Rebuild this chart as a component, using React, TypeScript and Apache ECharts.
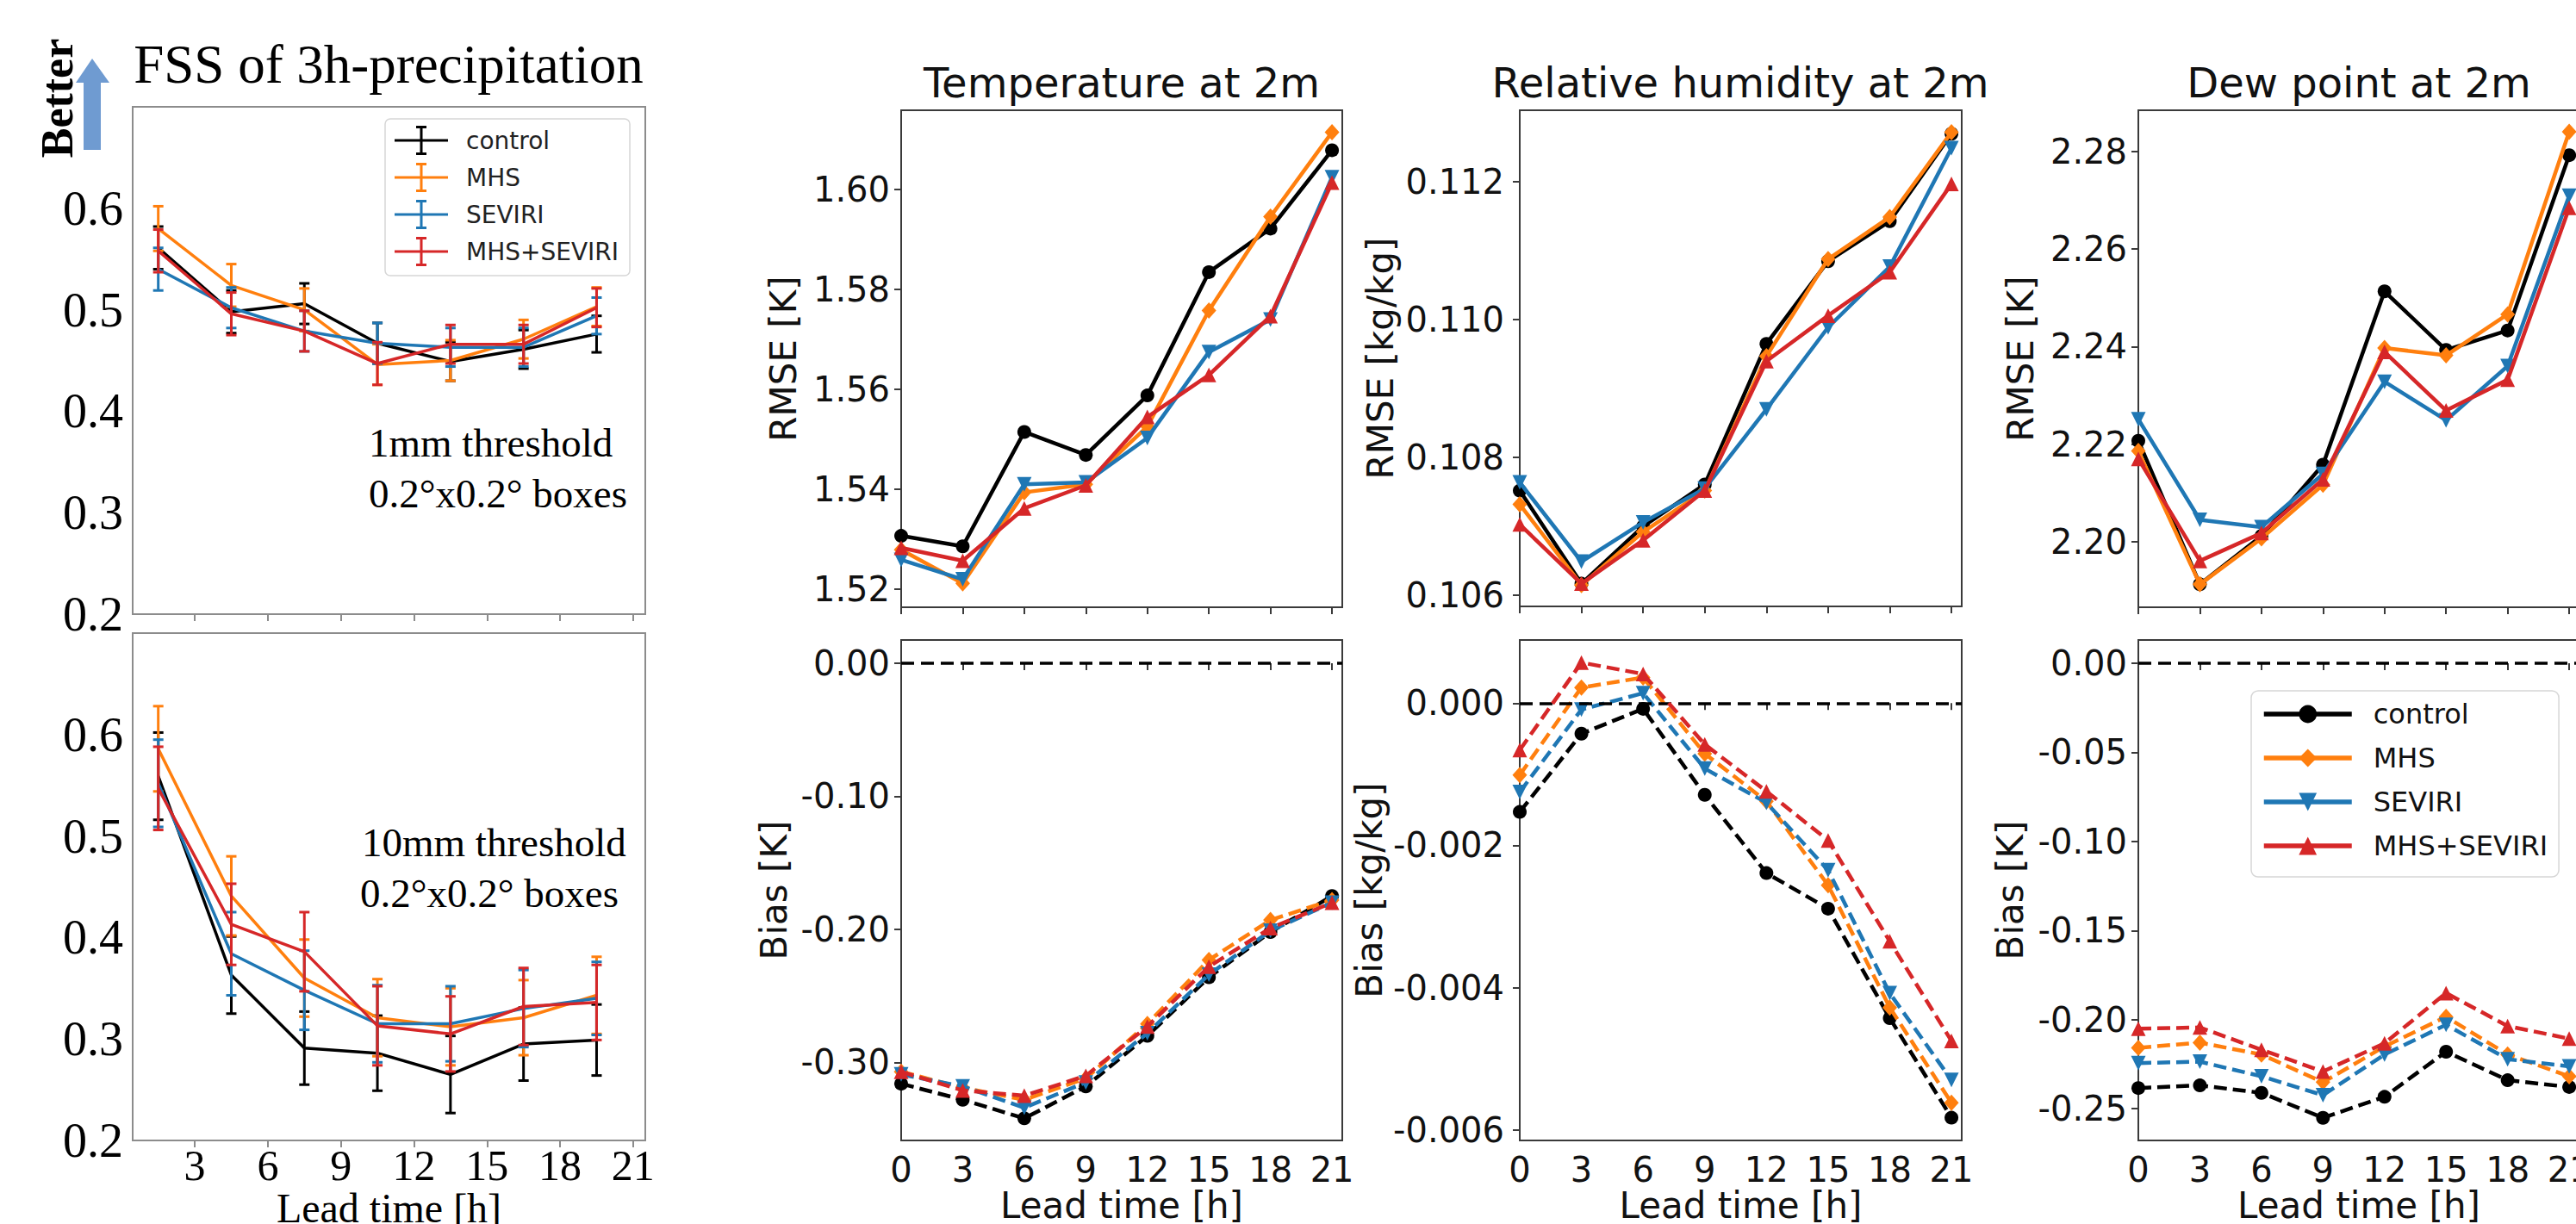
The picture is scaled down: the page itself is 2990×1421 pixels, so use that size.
import React, { useEffect, useRef } from 'react';
import * as echarts from 'echarts';

// ---------------- data ----------------
const experiments = ['control', 'MHS', 'SEVIRI', 'MHS+SEVIRI'];
const fssLeadTimes = [1.5, 4.5, 7.5, 10.5, 13.5, 16.5, 19.5];
const leadTimes = [0, 3, 6, 9, 12, 15, 18, 21];

// FSS, 1mm threshold
const fss1mmControl = [0.561, 0.498, 0.506, 0.467, 0.449, 0.461, 0.476];
const fss1mmMHS = [0.58, 0.524, 0.5, 0.446, 0.45, 0.471, 0.503];
const fss1mmSEVIRI = [0.54, 0.502, 0.479, 0.467, 0.463, 0.463, 0.494];
const fss1mmBoth = [0.558, 0.496, 0.479, 0.447, 0.466, 0.466, 0.502];
const fss1mmErrControl = [0.021, 0.021, 0.02, 0.02, 0.019, 0.019, 0.018];
const fss1mmErrMHS = [0.022, 0.021, 0.021, 0.02, 0.02, 0.019, 0.019];
const fss1mmErrSEVIRI = [0.021, 0.02, 0.02, 0.02, 0.019, 0.019, 0.018];
const fss1mmErrBoth = [0.021, 0.021, 0.02, 0.021, 0.019, 0.019, 0.019];

// FSS, 10mm threshold
const fss10mmControl = [0.559, 0.363, 0.291, 0.286, 0.265, 0.295, 0.299];
const fss10mmMHS = [0.586, 0.441, 0.36, 0.321, 0.312, 0.321, 0.343];
const fss10mmSEVIRI = [0.552, 0.384, 0.348, 0.315, 0.315, 0.33, 0.34];
const fss10mmBoth = [0.547, 0.413, 0.386, 0.313, 0.305, 0.332, 0.336];
const fss10mmErrControl = [0.043, 0.038, 0.036, 0.037, 0.038, 0.036, 0.035];
const fss10mmErrMHS = [0.042, 0.039, 0.038, 0.038, 0.038, 0.037, 0.038];
const fss10mmErrSEVIRI = [0.043, 0.041, 0.039, 0.038, 0.037, 0.038, 0.036];
const fss10mmErrBoth = [0.041, 0.04, 0.039, 0.039, 0.037, 0.038, 0.037];

// Temperature at 2m
const t2mRmseControl = [1.5307, 1.5286, 1.5515, 1.5469, 1.5588, 1.5835, 1.5922, 1.6079];
const t2mRmseMHS = [1.5279, 1.5212, 1.5394, 1.541, 1.5526, 1.5758, 1.5946, 1.6115];
const t2mRmseSEVIRI = [1.5259, 1.522, 1.541, 1.5414, 1.5503, 1.5675, 1.574, 1.6025];
const t2mRmseBoth = [1.5283, 1.5257, 1.5362, 1.5408, 1.5545, 1.5629, 1.5747, 1.6014];
const t2mBiasControl = [-0.316, -0.328, -0.342, -0.318, -0.28, -0.236, -0.202, -0.175];
const t2mBiasMHS = [-0.307, -0.319, -0.328, -0.312, -0.271, -0.223, -0.193, -0.178];
const t2mBiasSEVIRI = [-0.309, -0.318, -0.334, -0.315, -0.278, -0.234, -0.201, -0.18];
const t2mBiasBoth = [-0.307, -0.321, -0.325, -0.31, -0.273, -0.228, -0.199, -0.18];

// Relative humidity at 2m
const rh2mRmseControl = [0.10752, 0.10617, 0.107, 0.10761, 0.10965, 0.11085, 0.11143, 0.1127];
const rh2mRmseMHS = [0.10732, 0.10615, 0.10692, 0.10752, 0.10947, 0.11088, 0.11149, 0.11272];
const rh2mRmseSEVIRI = [0.10764, 0.10649, 0.10706, 0.10755, 0.1087, 0.10989, 0.11077, 0.11249];
const rh2mRmseBoth = [0.10703, 0.10617, 0.1068, 0.10752, 0.1094, 0.11006, 0.11069, 0.11197];
const rh2mBiasControl = [-0.00153, -0.00043, -0.00008, -0.00129, -0.00239, -0.00289, -0.00443, -0.00583];
const rh2mBiasMHS = [-0.00101, 0.00022, 0.00036, -0.00071, -0.00138, -0.00256, -0.00428, -0.00562];
const rh2mBiasSEVIRI = [-0.00125, -0.00009, 0.00014, -0.00092, -0.0014, -0.00235, -0.00408, -0.0053];
const rh2mBiasBoth = [-0.00066, 0.00057, 0.00041, -0.00058, -0.00124, -0.00193, -0.00335, -0.00475];

// Dew point at 2m
const td2mRmseControl = [2.2207, 2.1913, 2.2012, 2.2158, 2.2513, 2.2393, 2.2433, 2.2792];
const td2mRmseMHS = [2.2186, 2.1913, 2.2007, 2.2117, 2.2397, 2.2382, 2.2466, 2.284];
const td2mRmseSEVIRI = [2.2251, 2.2045, 2.203, 2.2139, 2.2328, 2.2249, 2.236, 2.2709];
const td2mRmseBoth = [2.217, 2.1961, 2.2018, 2.2128, 2.2389, 2.2269, 2.2332, 2.2684];
const td2mBiasControl = [-0.2384, -0.2369, -0.2411, -0.2551, -0.2433, -0.218, -0.234, -0.2378];
const td2mBiasMHS = [-0.2158, -0.2129, -0.2196, -0.2351, -0.2151, -0.1984, -0.2196, -0.2318];
const td2mBiasSEVIRI = [-0.2244, -0.2236, -0.2318, -0.2424, -0.2196, -0.2029, -0.2222, -0.2262];
const td2mBiasBoth = [-0.2051, -0.2044, -0.2169, -0.2291, -0.2133, -0.1851, -0.2036, -0.2107];

// tick labels
const fssXTicks = [3, 6, 9, 12, 15, 18, 21];
const fssYTicks = [0.2, 0.3, 0.4, 0.5, 0.6];
const leadTicks = [0, 3, 6, 9, 12, 15, 18, 21];
const t2mRmseTicks = [1.52, 1.54, 1.56, 1.58, 1.6];
const t2mBiasTicks = [-0.3, -0.2, -0.1, 0];
const rh2mRmseTicks = [0.106, 0.108, 0.11, 0.112];
const rh2mBiasTicks = [-0.006, -0.004, -0.002, 0];
const td2mRmseTicks = [2.2, 2.22, 2.24, 2.26, 2.28];
const td2mBiasTicks = [-0.25, -0.2, -0.15, -0.1, -0.05, 0];

// ---------------- styles ----------------
const SERIF = '"Liberation Serif", "Times New Roman", serif';
const SANS = '"DejaVu Sans", Verdana, sans-serif';
const COLORS = ['#000000', '#ff7f0e', '#1f77b4', '#d62728'];
const SYMBOLS = ['circle', 'diamond', 'triangle', 'triangle'];
const SYMBOL_SIZES: any[] = [16, [17, 19], 17, 17];
const SYMBOL_ROT = [0, 0, 180, 0];
const DASH = [15, 7];

const grids = [
  { left: 154, top: 124, width: 595, height: 589 },
  { left: 154, top: 735, width: 595, height: 589 },
  { left: 1046, top: 128, width: 512, height: 577 },
  { left: 1046, top: 743, width: 512, height: 581 },
  { left: 1764, top: 128, width: 513, height: 576 },
  { left: 1764, top: 743, width: 513, height: 581 },
  { left: 2482, top: 128, width: 512, height: 577 },
  { left: 2482, top: 743, width: 512, height: 581 },
];

function buildOption() {
  const grid = grids.map((g, i) => ({
    ...g,
    show: true,
    borderColor: i < 2 ? '#8c8c8c' : '#3a3a3a',
    borderWidth: 2,
    backgroundColor: 'rgba(0,0,0,0)',
    containLabel: false,
    outerBoundsMode: 'none',
  }));

  const xAxis: any[] = [];
  const yAxis: any[] = [];

  // FSS axes
  [0, 1].forEach((gi) => {
    xAxis.push({
      type: 'value', gridIndex: gi, min: 0.45, max: 21.5,
      axisLine: { show: false },
      splitLine: { show: false },
      axisTick: { show: true, inside: false, length: 8, customValues: fssXTicks, lineStyle: { color: '#8c8c8c', width: 2 } },
      axisLabel: {
        show: gi === 1, customValues: fssXTicks, margin: 4,
        fontFamily: SERIF, fontSize: 50, color: '#000',
      },
      name: gi === 1 ? 'Lead time [h]' : '',
      nameLocation: 'middle', nameGap: 42,
      nameTextStyle: { fontFamily: SERIF, fontSize: 48, color: '#000' },
    });
    yAxis.push({
      type: 'value', gridIndex: gi, min: 0.2, max: 0.7,
      axisLine: { show: false }, splitLine: { show: false },
      axisTick: { show: false },
      axisLabel: {
        customValues: fssYTicks, margin: 11, fontFamily: SERIF, fontSize: 56, color: '#000',
        formatter: (v: number) => v.toFixed(1),
      },
    });
  });

  const panels = [
    { gi: 2, min: 1.5164, max: 1.6159, ticks: t2mRmseTicks, dec: 2, name: 'RMSE [K]', gap: 116, margin: 13, bias: false },
    { gi: 3, min: -0.3586, max: 0.0174, ticks: t2mBiasTicks, dec: 2, name: 'Bias [K]', gap: 127, margin: 13, bias: true },
    { gi: 4, min: 0.10584, max: 0.11304, ticks: rh2mRmseTicks, dec: 3, name: 'RMSE [kg/kg]', gap: 141, margin: 18, bias: false },
    { gi: 5, min: -0.00615, max: 0.000888, ticks: rh2mBiasTicks, dec: 3, name: 'Bias [kg/kg]', gap: 154, margin: 18, bias: true },
    { gi: 6, min: 2.1866, max: 2.2884, ticks: td2mRmseTicks, dec: 2, name: 'RMSE [K]', gap: 116, margin: 13, bias: false },
    { gi: 7, min: -0.2678, max: 0.013, ticks: td2mBiasTicks, dec: 2, name: 'Bias [K]', gap: 128, margin: 13, bias: true },
  ];

  panels.forEach((p) => {
    xAxis.push({
      type: 'value', gridIndex: p.gi, min: 0, max: 21.5,
      axisLine: { show: false }, splitLine: { show: false },
      axisTick: { show: true, inside: false, length: 8, customValues: leadTicks, lineStyle: { color: '#3a3a3a', width: 2 } },
      axisLabel: {
        show: p.bias, customValues: leadTicks, margin: 14,
        fontFamily: SANS, fontSize: 40, color: '#111',
      },
      name: p.bias ? 'Lead time [h]' : '',
      nameLocation: 'middle', nameGap: 49,
      nameTextStyle: { fontFamily: SANS, fontSize: 42, color: '#111' },
    });
    yAxis.push({
      type: 'value', gridIndex: p.gi, min: p.min, max: p.max,
      axisLine: { show: false }, splitLine: { show: false },
      axisTick: { show: true, inside: false, length: 8, customValues: p.ticks, lineStyle: { color: '#3a3a3a', width: 2 } },
      axisLabel: {
        customValues: p.ticks, margin: p.margin, fontFamily: SANS, fontSize: 40, color: '#111',
        formatter: (v: number) => v.toFixed(p.dec),
      },
      name: p.name, nameLocation: 'middle', nameGap: p.gap,
      nameTextStyle: { fontFamily: SANS, fontSize: 42, color: '#111' },
    });
  });

  const series: any[] = [];
  const rightData = [
    { axis: 2, dashed: false, sets: [t2mRmseControl, t2mRmseMHS, t2mRmseSEVIRI, t2mRmseBoth] },
    { axis: 3, dashed: true, sets: [t2mBiasControl, t2mBiasMHS, t2mBiasSEVIRI, t2mBiasBoth] },
    { axis: 4, dashed: false, sets: [rh2mRmseControl, rh2mRmseMHS, rh2mRmseSEVIRI, rh2mRmseBoth] },
    { axis: 5, dashed: true, sets: [rh2mBiasControl, rh2mBiasMHS, rh2mBiasSEVIRI, rh2mBiasBoth] },
    { axis: 6, dashed: false, sets: [td2mRmseControl, td2mRmseMHS, td2mRmseSEVIRI, td2mRmseBoth] },
    { axis: 7, dashed: true, sets: [td2mBiasControl, td2mBiasMHS, td2mBiasSEVIRI, td2mBiasBoth] },
  ];
  rightData.forEach((panel) => {
    panel.sets.forEach((vals, k) => {
      const s: any = {
        name: experiments[k], type: 'line', xAxisIndex: panel.axis, yAxisIndex: panel.axis,
        data: leadTimes.map((x, i) => [x, vals[i]]),
        symbol: SYMBOLS[k], symbolSize: SYMBOL_SIZES[k], symbolRotate: SYMBOL_ROT[k],
        showSymbol: true,
        lineStyle: { color: COLORS[k], width: 4.5, type: panel.dashed ? DASH : 'solid' },
        itemStyle: { color: COLORS[k], borderWidth: 0 },
        z: 2 + k, silent: true,
      };
      if (panel.dashed && k === 0) {
        s.markLine = {
          silent: true, symbol: 'none', label: { show: false },
          lineStyle: { color: '#000', type: [15, 8], width: 3.5 },
          data: [{ yAxis: 0 }],
        };
      }
      series.push(s);
    });
  });

  const fssPanels = [
    { axis: 0, sets: [fss1mmControl, fss1mmMHS, fss1mmSEVIRI, fss1mmBoth], errs: [fss1mmErrControl, fss1mmErrMHS, fss1mmErrSEVIRI, fss1mmErrBoth] },
    { axis: 1, sets: [fss10mmControl, fss10mmMHS, fss10mmSEVIRI, fss10mmBoth], errs: [fss10mmErrControl, fss10mmErrMHS, fss10mmErrSEVIRI, fss10mmErrBoth] },
  ];
  fssPanels.forEach((panel) => {
    panel.sets.forEach((vals, k) => {
      const color = COLORS[k];
      series.push({
        name: experiments[k], type: 'line', xAxisIndex: panel.axis, yAxisIndex: panel.axis,
        data: fssLeadTimes.map((x, i) => [x, vals[i]]),
        symbol: 'none', showSymbol: false,
        lineStyle: { color, width: 3.5 }, itemStyle: { color },
        z: 2 + k, silent: true,
      });
      series.push({
        name: experiments[k] + ' error', type: 'custom', xAxisIndex: panel.axis, yAxisIndex: panel.axis,
        data: fssLeadTimes.map((x, i) => [x, vals[i], panel.errs[k][i]]),
        encode: { x: 0, y: 1 },
        z: 2 + k, silent: true,
        renderItem: (params: any, api: any) => {
          const x = api.value(0);
          const y = api.value(1);
          const e = api.value(2);
          const top = api.coord([x, y + e]);
          const bot = api.coord([x, y - e]);
          const hw = 6;
          const style = { stroke: color, lineWidth: 3 };
          return {
            type: 'group',
            children: [
              { type: 'line', shape: { x1: top[0], y1: top[1], x2: bot[0], y2: bot[1] }, style },
              { type: 'line', shape: { x1: top[0] - hw, y1: top[1], x2: top[0] + hw, y2: top[1] }, style },
              { type: 'line', shape: { x1: bot[0] - hw, y1: bot[1], x2: bot[0] + hw, y2: bot[1] }, style },
            ],
          };
        },
      });
    });
  });

  const errIcon = 'path://M0,15.5H62V18.5H0Z M29.5,0H32.5V34H29.5Z M25,0H37V3H25Z M25,31H37V34H25Z';

  const legend = [
    {
      left: 447, top: 138, orient: 'vertical', selectedMode: false,
      data: experiments, icon: errIcon, itemWidth: 62, itemHeight: 34, itemGap: 9,
      backgroundColor: '#fff', borderColor: '#d6d6d6', borderWidth: 1.5, borderRadius: 6,
      padding: [8, 13, 11, 11],
      textStyle: { fontFamily: SANS, fontSize: 28, color: '#222', padding: [0, 0, 0, 16], lineHeight: 30 },
    },
    {
      left: 2613, top: 802, orient: 'vertical', selectedMode: false,
      data: experiments, itemWidth: 102, itemHeight: 26, itemGap: 17,
      lineStyle: { width: 5.5 },
      backgroundColor: '#fff', borderColor: '#d6d6d6', borderWidth: 1.5, borderRadius: 8,
      padding: [10, 13, 19, 12],
      textStyle: { fontFamily: SANS, fontSize: 32, color: '#111', padding: [0, 0, 0, 20], lineHeight: 34 },
    },
  ];

  const title = [
    { text: 'FSS of 3h-precipitation', left: 451, top: 43, textAlign: 'center', padding: 0,
      textStyle: { fontFamily: SERIF, fontSize: 63, fontWeight: 'normal', color: '#000' } },
    { text: 'Temperature at 2m', left: 1302, top: 72, textAlign: 'center', padding: 0,
      textStyle: { fontFamily: SANS, fontSize: 48, fontWeight: 'normal', color: '#111' } },
    { text: 'Relative humidity at 2m', left: 2020, top: 72, textAlign: 'center', padding: 0,
      textStyle: { fontFamily: SANS, fontSize: 48, fontWeight: 'normal', color: '#111' } },
    { text: 'Dew point at 2m', left: 2738, top: 72, textAlign: 'center', padding: 0,
      textStyle: { fontFamily: SANS, fontSize: 48, fontWeight: 'normal', color: '#111' } },
  ];

  const annoFont = `47px ${SERIF}`;
  const graphic = [
    { type: 'text', x: 428, y: 514, style: { text: '1mm threshold', font: annoFont, fill: '#000', align: 'left', verticalAlign: 'middle' } },
    { type: 'text', x: 428, y: 573, style: { text: '0.2\u00b0x0.2\u00b0 boxes', font: annoFont, fill: '#000', align: 'left', verticalAlign: 'middle' } },
    { type: 'text', x: 420, y: 978, style: { text: '10mm threshold', font: annoFont, fill: '#000', align: 'left', verticalAlign: 'middle' } },
    { type: 'text', x: 418, y: 1037, style: { text: '0.2\u00b0x0.2\u00b0 boxes', font: annoFont, fill: '#000', align: 'left', verticalAlign: 'middle' } },
    { type: 'text', x: 66, y: 114, rotation: Math.PI / 2,
      style: { text: 'Better', font: `bold 52px ${SERIF}`, fill: '#000', align: 'center', verticalAlign: 'middle' } },
    { type: 'polygon', shape: { points: [[107, 68], [127, 96], [117, 96], [117, 174], [97, 174], [97, 96], [88, 96]] },
      style: { fill: '#6f9bd1' } },
  ];

  return {
    animation: false,
    backgroundColor: '#fff',
    textStyle: { fontFamily: SANS },
    title, legend, grid, xAxis, yAxis, series, graphic,
  };
}

export default function App() {
  const ref = useRef<HTMLDivElement>(null);
  useEffect(() => {
    if (!ref.current) return;
    const chart = echarts.init(ref.current, null, { renderer: 'svg' });
    chart.setOption(buildOption() as any);
    return () => chart.dispose();
  }, []);
  return (
    <div
      ref={ref}
      style={{ position: 'absolute', left: 0, top: 0, width: 2990, height: 1421, background: '#fff', overflow: 'hidden' }}
    />
  );
}
